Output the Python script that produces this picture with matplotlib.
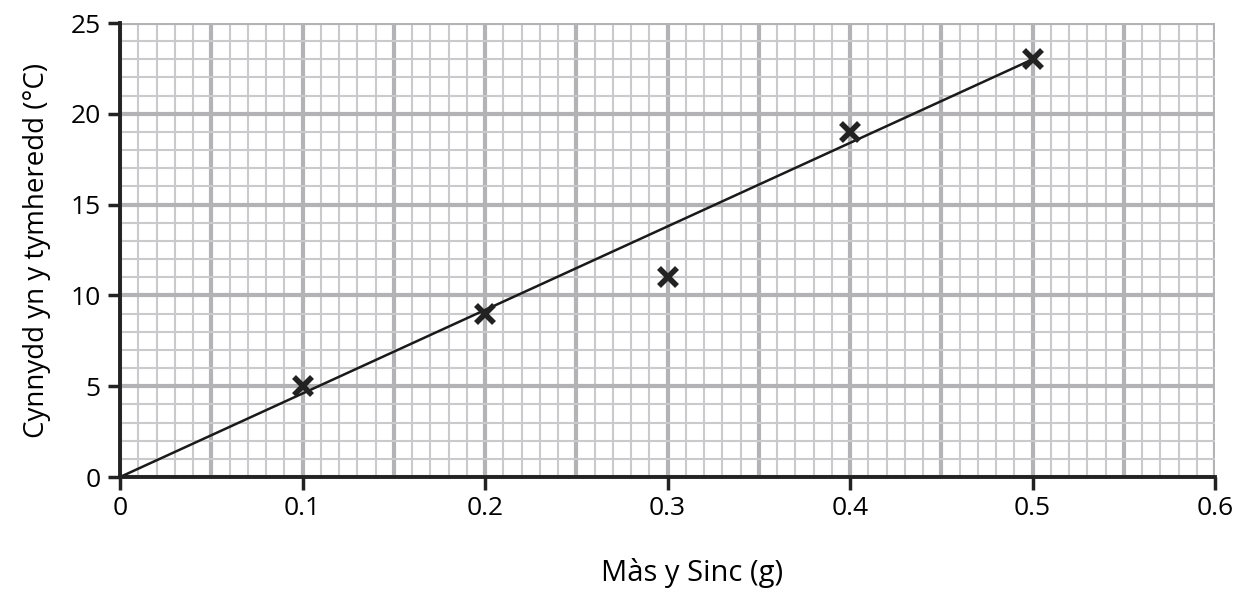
import matplotlib
matplotlib.use("Agg")
import matplotlib.pyplot as plt
import numpy as np

# data
mass = [0.1, 0.2, 0.3, 0.4, 0.5]
temp_rise = [5, 9, 11, 19, 23]
fit_x = [0.0, 0.5]
fit_y = [0.0, 23.0]

x_ticks = [0, 0.1, 0.2, 0.3, 0.4, 0.5, 0.6]
x_labels = ["0", "0.1", "0.2", "0.3", "0.4", "0.5", "0.6"]
y_ticks = [0, 5, 10, 15, 20, 25]

plt.rcParams["font.family"] = ["Open Sans", "DejaVu Sans"]

fig = plt.figure(figsize=(12.48, 5.9), dpi=100)
ax = fig.add_axes([0.0962, 0.1915, 0.8774, 0.7695])

ax.set_xlim(0, 0.6)
ax.set_ylim(0, 25)

# graph paper grid
for x in np.arange(0, 0.6001, 0.01):
    major = abs(round(x / 0.05) * 0.05 - x) < 1e-6
    ax.axvline(x, color="#b3b3b5" if major else "#cacacc",
               lw=3 if major else 1.5, zorder=0)
for y in range(0, 26):
    major = y % 5 == 0
    ax.axhline(y, color="#b3b3b5" if major else "#cacacc",
               lw=3 if major else 1.5, zorder=0)

ax.plot(fit_x, fit_y, color="#1a1a1a", lw=1.8, zorder=3)
ax.plot(mass, temp_rise, linestyle="none", marker="x", markersize=13,
        markeredgewidth=4, color="#222222", zorder=4)

ax.set_xticks(x_ticks)
ax.set_xticklabels(x_labels)
ax.set_yticks(y_ticks)
ax.tick_params(direction="out", length=9, width=2.5, labelsize=19,
               color="#222222", pad=5)

for side in ["top", "right"]:
    ax.spines[side].set_visible(False)
for side in ["left", "bottom"]:
    ax.spines[side].set_linewidth(2.8)
    ax.spines[side].set_color("#222222")
    ax.spines[side].set_zorder(5)

ax.set_xlabel("Màs y Sinc (g)", fontsize=21, va="center")
ax.xaxis.set_label_coords(0.522, -0.211)
ax.set_ylabel("Cynnydd yn y tymheredd (°C)", fontsize=20, labelpad=14)

fig.savefig("out.png", dpi=100)
